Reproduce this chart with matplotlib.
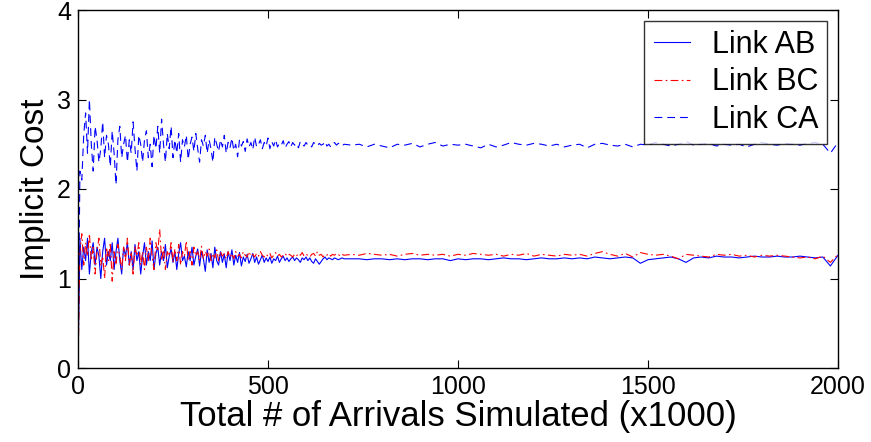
import numpy as np
import matplotlib
matplotlib.use("Agg")
import matplotlib.pyplot as plt

plt.rcParams['font.family'] = ['Liberation Sans', 'DejaVu Sans']

# ---- data ----
x_early = np.arange(0, 701, 5)      # dense sampling in the noisy region
x_late = np.arange(720, 2001, 20)   # sparser in the settled region

ab_early = [0.0, 1.45, 1.1, 1.35, 1.2, 1.45, 1.05, 1.3, 1.4, 1.15,
            1.35, 1.25, 1.0, 1.3, 1.45, 1.15, 1.3, 1.2, 1.4, 1.1,
            1.3, 1.45, 1.2, 1.05, 1.35, 1.25, 1.4, 1.15, 1.3, 1.1,
            1.38, 1.2, 1.3, 1.05, 1.25, 1.4, 1.15, 1.3, 1.2, 1.42,
            1.1, 1.28, 1.35, 1.15, 1.3, 1.2, 1.38, 1.12, 1.25, 1.33,
            1.18, 1.3, 1.1, 1.28, 1.4, 1.2, 1.25, 1.13, 1.3, 1.2,
            1.35, 1.15, 1.25, 1.33, 1.14, 1.3, 1.22, 1.08, 1.32, 1.18,
            1.28, 1.12, 1.35, 1.2, 1.15, 1.3, 1.18, 1.27, 1.12, 1.3,
            1.2, 1.32, 1.15, 1.26, 1.18, 1.29, 1.14, 1.24, 1.19, 1.27,
            1.17, 1.22, 1.28, 1.18, 1.24, 1.16, 1.21, 1.26, 1.18, 1.23,
            1.19, 1.24, 1.17, 1.22, 1.2, 1.25, 1.18, 1.22, 1.25, 1.2,
            1.23, 1.19, 1.22, 1.24, 1.2, 1.23, 1.21, 1.18, 1.23, 1.21,
            1.24, 1.2, 1.23, 1.19, 1.17, 1.22, 1.19, 1.16, 1.19, 1.22,
            1.24, 1.21, 1.23, 1.22, 1.21, 1.23, 1.22, 1.21, 1.22, 1.23,
            1.22]
ab_late = [1.22, 1.22, 1.21, 1.22, 1.22, 1.21, 1.22, 1.21, 1.22, 1.22,
           1.21, 1.22, 1.22, 1.2, 1.22, 1.21, 1.22, 1.22, 1.21, 1.22,
           1.23, 1.22, 1.22, 1.21, 1.22, 1.23, 1.22, 1.22, 1.23, 1.22,
           1.23, 1.22, 1.24, 1.23, 1.22, 1.23, 1.24, 1.23, 1.17, 1.21,
           1.22, 1.23, 1.24, 1.22, 1.18, 1.23, 1.24, 1.23, 1.25, 1.24,
           1.24, 1.23, 1.24, 1.25, 1.24, 1.24, 1.25, 1.24, 1.24, 1.25,
           1.24, 1.23, 1.24, 1.14, 1.26]

bc_early = [0.0, 1.3, 1.5, 1.15, 1.4, 1.25, 1.5, 1.2, 1.35, 1.05,
            1.3, 1.45, 1.15, 1.25, 1.0, 1.35, 1.2, 1.4, 0.97, 1.3,
            1.15, 1.38, 1.25, 1.1, 1.35, 1.2, 1.45, 1.15, 1.3, 1.05,
            1.35, 1.25, 1.4, 1.15, 1.3, 1.1, 1.35, 1.2, 1.45, 1.25,
            1.1, 1.4, 1.3, 1.55, 1.2, 1.35, 1.1, 1.3, 1.25, 1.4,
            1.18, 1.33, 1.2, 1.38, 1.15, 1.3, 1.25, 1.42, 1.2, 1.3,
            1.15, 1.35, 1.25, 1.3, 1.2, 1.36, 1.22, 1.3, 1.25, 1.33,
            1.2, 1.28, 1.23, 1.32, 1.2, 1.3, 1.25, 1.28, 1.22, 1.3,
            1.24, 1.28, 1.22, 1.3, 1.25, 1.27, 1.23, 1.3, 1.26, 1.24,
            1.3, 1.25, 1.27, 1.24, 1.28, 1.25, 1.3, 1.26, 1.24, 1.27,
            1.25, 1.28, 1.23, 1.26, 1.29, 1.25, 1.27, 1.24, 1.26, 1.28,
            1.25, 1.27, 1.26, 1.24, 1.27, 1.25, 1.28, 1.26, 1.29, 1.25,
            1.27, 1.26, 1.24, 1.27, 1.28, 1.25, 1.3, 1.26, 1.27, 1.24,
            1.27, 1.26, 1.28, 1.25, 1.27, 1.26, 1.28, 1.27, 1.25, 1.27,
            1.26]
bc_late = [1.27, 1.26, 1.28, 1.27, 1.26, 1.27, 1.25, 1.27, 1.28, 1.26,
           1.27, 1.26, 1.27, 1.25, 1.27, 1.26, 1.28, 1.27, 1.26, 1.27,
           1.25, 1.27, 1.26, 1.28, 1.25, 1.27, 1.26, 1.25, 1.27, 1.26,
           1.27, 1.25, 1.28, 1.3, 1.27, 1.25, 1.28, 1.24, 1.29, 1.27,
           1.26, 1.27, 1.25, 1.22, 1.27, 1.26, 1.25, 1.24, 1.27, 1.26,
           1.27, 1.25, 1.26, 1.24, 1.26, 1.25, 1.26, 1.25, 1.24, 1.23,
           1.24, 1.22, 1.25, 1.18, 1.27]

ca_early = [0.0, 2.2, 2.1, 2.6, 2.85, 2.4, 3.0, 2.5, 2.2, 2.7,
            2.55, 2.3, 2.45, 2.75, 2.35, 2.6, 2.5, 2.25, 2.65, 2.4,
            2.05, 2.55, 2.7, 2.35, 2.5, 2.6, 2.3, 2.55, 2.4, 2.75,
            2.45, 2.2, 2.6, 2.5, 2.3, 2.55, 2.65, 2.35, 2.5, 2.25,
            2.6, 2.45, 2.7, 2.4, 2.78, 2.5, 2.3, 2.62, 2.45, 2.7,
            2.35, 2.55, 2.4, 2.62, 2.3, 2.55, 2.47, 2.6, 2.33, 2.5,
            2.58, 2.42, 2.62, 2.45, 2.3, 2.55, 2.48, 2.6, 2.4, 2.55,
            2.45, 2.3, 2.58, 2.5, 2.42, 2.55, 2.47, 2.6, 2.4, 2.52,
            2.46, 2.57, 2.43, 2.5, 2.36, 2.55, 2.48, 2.53, 2.42, 2.56,
            2.47, 2.52, 2.44, 2.58, 2.47, 2.5, 2.55, 2.45, 2.52, 2.48,
            2.57, 2.45, 2.53, 2.48, 2.55, 2.47, 2.51, 2.49, 2.54, 2.46,
            2.5, 2.53, 2.47, 2.52, 2.49, 2.51, 2.46, 2.53, 2.5, 2.48,
            2.52, 2.49, 2.5, 2.47, 2.52, 2.5, 2.48, 2.51, 2.49, 2.5,
            2.53, 2.48, 2.5, 2.47, 2.5, 2.52, 2.49, 2.51, 2.5, 2.48,
            2.5]
ca_late = [2.49, 2.5, 2.47, 2.5, 2.48, 2.46, 2.5, 2.49, 2.51, 2.47,
           2.5, 2.52, 2.48, 2.5, 2.49, 2.5, 2.48, 2.46, 2.5, 2.47,
           2.49, 2.52, 2.5, 2.49, 2.51, 2.5, 2.48, 2.5, 2.47, 2.49,
           2.5, 2.46, 2.5, 2.51, 2.49, 2.48, 2.5, 2.47, 2.5, 2.49,
           2.52, 2.5, 2.48, 2.5, 2.53, 2.49, 2.5, 2.51, 2.48, 2.5,
           2.49, 2.5, 2.47, 2.5, 2.52, 2.5, 2.49, 2.51, 2.5, 2.49,
           2.51, 2.52, 2.5, 2.4, 2.52]

x_all = np.concatenate([x_early, x_late])
series = {
    "Link AB": np.concatenate([ab_early, ab_late]),
    "Link BC": np.concatenate([bc_early, bc_late]),
    "Link CA": np.concatenate([ca_early, ca_late]),
}
x_ticks = [0, 500, 1000, 1500, 2000]
y_ticks = [0, 1, 2, 3, 4]

# ---- figure ----
fig = plt.figure(figsize=(8.71, 4.42), dpi=100)
ax = fig.add_axes([78 / 871, 1 - 368 / 442, (838 - 78) / 871, (368 - 10) / 442])

ax.plot(x_all, series["Link AB"], color="#0000ff", lw=0.8, ls="-", label="Link AB")
ax.plot(x_all, series["Link BC"], color="#ff0000", lw=0.8, ls=(0, (7, 3, 1.5, 3)), label="Link BC")
ax.plot(x_all, series["Link CA"], color="#0000ff", lw=0.8, ls=(0, (7, 4.5)), label="Link CA")

ax.set_xlim(0, 2000)
ax.set_ylim(0, 4)
ax.set_xticks(x_ticks)
ax.set_yticks(y_ticks)
ax.tick_params(direction="in", length=6, width=0.8, top=True, right=True,
               labelsize=18, pad=5)
for s in ax.spines.values():
    s.set_linewidth(1.0)

ax.set_xlabel("Total # of Arrivals Simulated (x1000)", fontsize=25, labelpad=1)
ax.set_ylabel("Implicit Cost", fontsize=24, labelpad=4)

leg = ax.legend(loc="upper right", fontsize=22, frameon=True, fancybox=False,
                edgecolor="black", handlelength=1.2, handletextpad=0.7,
                borderpad=0.3, labelspacing=0.25, borderaxespad=0.35)
leg.get_frame().set_linewidth(1.0)

fig.savefig("out.png", dpi=100)
